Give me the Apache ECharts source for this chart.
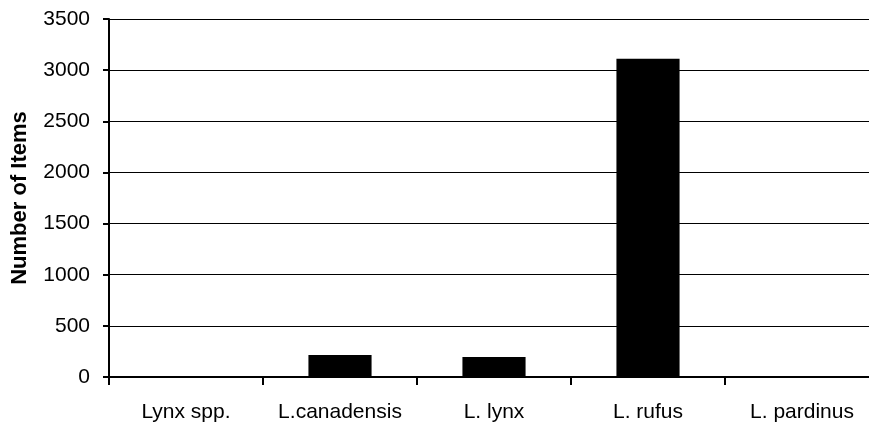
<!DOCTYPE html>
<html>
<head>
<meta charset="utf-8">
<script src="https://cdn.jsdelivr.net/npm/echarts@6/dist/echarts.min.js"></script>
<style>html,body{margin:0;padding:0;background:#fff;overflow:hidden;width:869px;height:423px;}#c{width:879px;height:423px;}</style>
</head>
<body>
<div id="c"></div>
<script>
var categories = ["Lynx spp.", "L.canadensis", "L. lynx", "L. rufus", "L. pardinus"];
var values = [0, 215, 195, 3112, 0];
var yTicks = [0, 500, 1000, 1500, 2000, 2500, 3000, 3500];

var chart = echarts.init(document.getElementById('c'), null, {renderer: 'canvas'});
chart.setOption({
  animation: false,
  grid: {left: 109, top: 19, bottom: 44, right: 0, containLabel: false},
  xAxis: {
    type: 'category',
    data: categories,
    axisLine: {lineStyle: {color: '#000', width: 2}},
    axisTick: {show: true, interval: 0, length: 8, lineStyle: {color: '#000', width: 2}},
    axisLabel: {interval: 0, color: '#000', fontFamily: 'Liberation Sans, Arial', fontSize: 21, margin: 25}
  },
  yAxis: {
    type: 'value',
    min: yTicks[0], max: yTicks[yTicks.length - 1], interval: 500,
    name: 'Number of Items',
    nameLocation: 'middle',
    nameGap: 78,
    nameTextStyle: {color: '#000', fontFamily: 'Liberation Sans, Arial', fontSize: 22, fontWeight: 'bold'},
    axisLine: {show: true, lineStyle: {color: '#000', width: 2}},
    axisTick: {show: true, length: 6, lineStyle: {color: '#000', width: 2}},
    axisLabel: {color: '#000', fontFamily: 'Liberation Sans, Arial', fontSize: 21, margin: 19,
      formatter: function (v) { return String(v); }},
    splitLine: {show: true, lineStyle: {color: '#000', width: 1}}
  },
  series: [{
    type: 'bar',
    data: values,
    barWidth: '41%',
    itemStyle: {color: '#000'}
  }]
});
</script>
</body>
</html>
